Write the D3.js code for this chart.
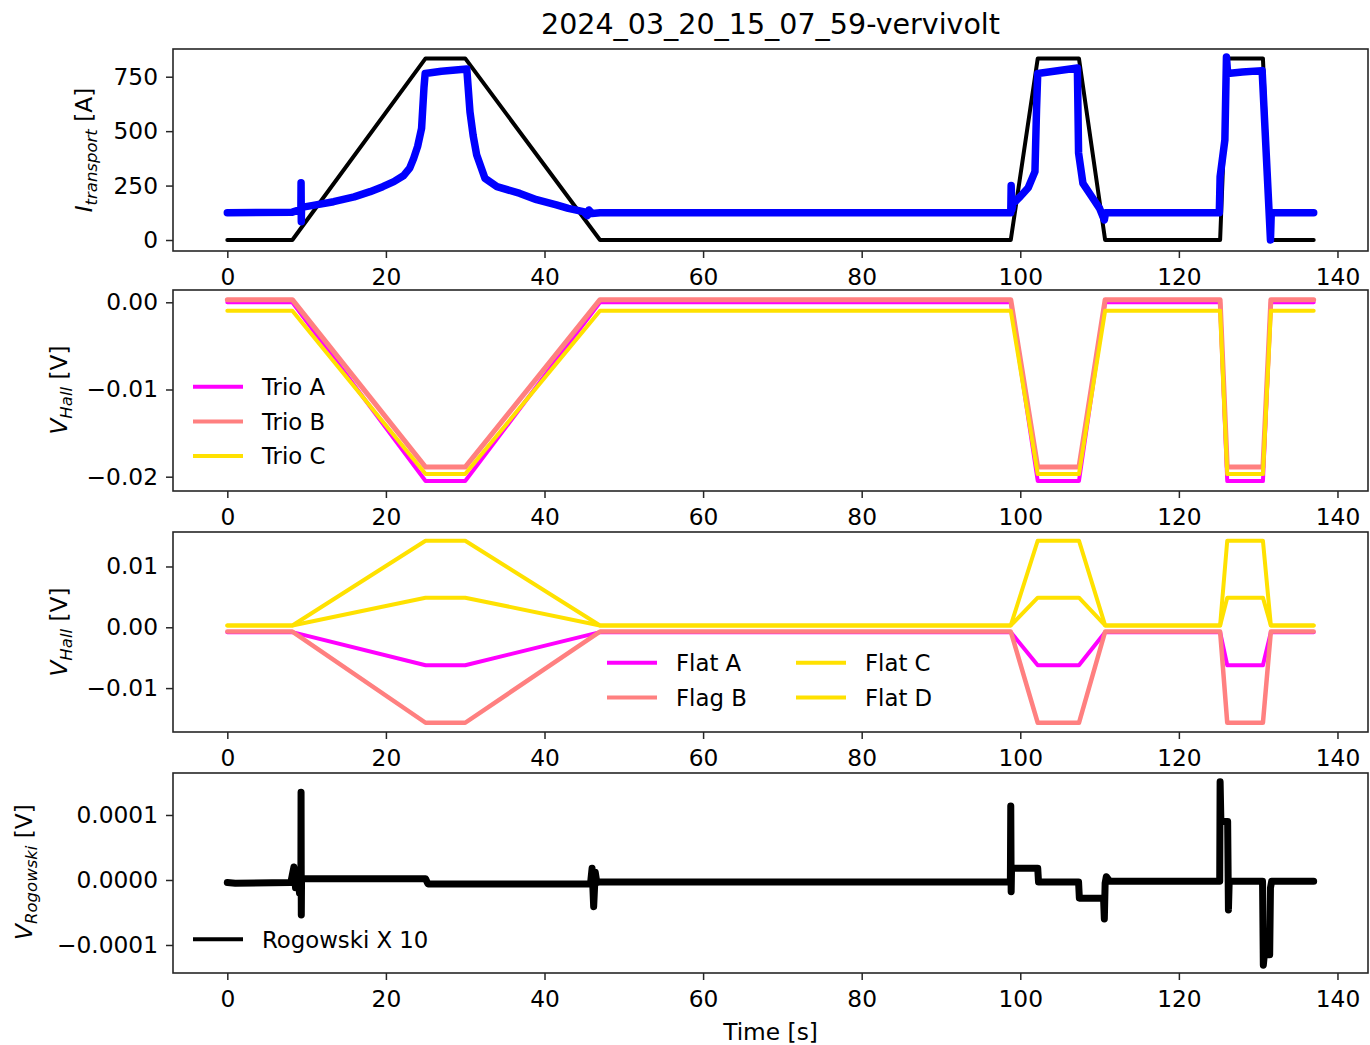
<!DOCTYPE html>
<html>
<head>
<meta charset="utf-8">
<script src="https://cdn.jsdelivr.net/npm/d3@7"></script>
<style>
  body { margin: 0; background: #fff; }
  text { font-family: "DejaVu Sans", sans-serif; fill: #000; }
  .axis path, .axis line { stroke: #262626; stroke-width: 1.5; }
  .axis text { font-size: 23.3px; }
</style>
</head>
<body>
<script>

// setpoint breakpoints (time, s) shared by setpoint and hall sensors
var tSet = [0, 8.2, 25, 30, 47, 98.8, 102.2, 107.4, 110.7, 125.2, 126.1, 130.6, 131.6, 137];
var iSet = [0, 0, 834, 834, 0, 0, 834, 834, 0, 0, 834, 834, 0, 0];

// measured transport current
var tMeas = [0, 8.2, 9.2, 9.28, 9.3, 9.33, 9.36, 11, 13.4, 16, 18, 19.6, 21, 22.2, 23, 23.5, 24, 24.5, 24.8, 24.95, 27, 30.2,
  30.6, 31, 31.45, 32.5, 34, 36.9, 39, 41.5, 43, 44.9, 45.4, 45.6, 46, 47,
  98.8, 98.85, 98.95, 99.1, 100, 101, 101.85, 102.05, 102.2, 107.2, 107.35, 107.9, 109, 110, 110.6, 110.75,
  125.1, 125.2, 125.8, 126.0, 126.15, 128, 130.5, 131.55, 131.65, 137];
var iMeas = [125, 128, 140, 150, 263, 84, 150, 160, 176, 198, 222, 245, 268, 295, 330, 375, 430, 513, 700, 765, 775, 785,
  589, 480, 390, 283, 245, 214, 185, 161, 145, 130, 112, 138, 122, 125,
  125, 250, 140, 168, 200, 240, 314, 600, 765, 790, 400, 260, 200, 145, 92, 125,
  125, 291, 459, 841, 765, 772, 778, 0, 125, 125];

// hall sensor series (V)
var trioNames = ["Trio A", "Trio B", "Trio C"];
var trioA = [0, 0, -0.0205, -0.0205, 0, 0, -0.0205, -0.0205, 0, 0, -0.0205, -0.0205, 0, 0];
var trioB = [0.0003, 0.0003, -0.0189, -0.0189, 0.0003, 0.0003, -0.0189, -0.0189, 0.0003, 0.0003, -0.0189, -0.0189, 0.0003, 0.0003];
var trioC = [-0.00096, -0.00096, -0.0197, -0.0197, -0.00096, -0.00096, -0.0197, -0.0197, -0.00096, -0.00096, -0.0197, -0.0197, -0.00096, -0.00096];

var flatNames = ["Flat A", "Flag B", "Flat C", "Flat D"];
var flatA = [-0.0008, -0.0008, -0.00625, -0.00625, -0.0008, -0.0008, -0.00625, -0.00625, -0.0008, -0.0008, -0.00625, -0.00625, -0.0008, -0.0008];
var flagB = [-0.0007, -0.0007, -0.0157, -0.0157, -0.0007, -0.0007, -0.0157, -0.0157, -0.0007, -0.0007, -0.0157, -0.0157, -0.0007, -0.0007];
var flatC = [0.0003, 0.0003, 0.01424, 0.01424, 0.0003, 0.0003, 0.01424, 0.01424, 0.0003, 0.0003, 0.01424, 0.01424, 0.0003, 0.0003];
var flatD = [0.0003, 0.0003, 0.00487, 0.00487, 0.0003, 0.0003, 0.00487, 0.00487, 0.0003, 0.0003, 0.00487, 0.00487, 0.0003, 0.0003];

// rogowski coil (x10)
var tRog = [0, 1, 8, 8.4, 8.6, 8.9, 9.1, 9.28, 9.3, 9.33, 9.36, 9.6, 25, 25.3, 45.8, 46.0, 46.2, 46.4, 46.6, 47, 98.75,
  98.8, 98.85, 98.9, 99.0, 102.2, 102.3, 107.35, 107.45, 110.5, 110.6, 110.7, 110.85, 111.3, 125.15,
  125.2, 125.3, 125.4, 126.15, 126.25, 126.35, 126.45, 130.55, 130.65, 130.8, 131.0, 131.45, 131.55, 131.7, 137];
var vRog = [-0.000004, -0.000005, -0.000004, 0.00002, -0.000012, 0.000015, -0.00002, 0.000005, 0.000135, -0.000054, 0.000002, 0.000002, 0.000002, -0.000006, -0.000006, 0.000018, -0.000041, 0.000012, -0.000004, -0.000003, -0.000003,
  0.000114, -0.000018, 0.00002, 0.000018, 0.000018, -0.000003, -0.000003, -0.000028, -0.000028, -0.00006, -0.000005, 0.000005, -0.000002, -0.000002,
  0.000151, 0.00009, 0.00009, 0.00009, -0.000046, 0.0000, -0.000002, -0.000002, -0.000131, -0.000112, -0.000115, -0.000115, -0.000012, -0.000002, -0.000002];

var xTicks = [0, 20, 40, 60, 80, 100, 120, 140];

var width = 1370, height = 1045,
    left = 173, right = 1368;

var panels = [
  {top: 49, bottom: 251, domain: [-50.5, 877.3], ticks: [0, 250, 500, 750], fmt: d3.format("d")},
  {top: 290, bottom: 491, domain: [-0.02164, 0.00141], ticks: [-0.02, -0.01, 0], fmt: d3.format(".2f")},
  {top: 532, bottom: 732, domain: [-0.01722, 0.01567], ticks: [-0.01, 0, 0.01], fmt: d3.format(".2f")},
  {top: 773, bottom: 973, domain: [-0.0001431, 0.0001646], ticks: [-0.0001, 0, 0.0001], fmt: d3.format(".4f")}
];

var colMagenta = "#ff00ff", colSalmon = "#ff8080", colYellow = "#ffe100";

var svg = d3.select("body").append("svg")
    .attr("width", width)
    .attr("height", height);

var x = d3.scaleLinear().domain([-6.85, 143.85]).range([left, right]);

var line = d3.line()
    .x(function(d) { return x(d[0]); })
    .y(function(d) { return d[1]; });

function zip(ts, vs, y) {
  return ts.map(function(t, i) { return [t, y(vs[i])]; });
}

panels.forEach(function(p, k) {
  p.y = d3.scaleLinear().domain(p.domain).range([p.bottom, p.top]);

  svg.append("defs").append("clipPath")
      .attr("id", "clip" + k)
    .append("rect")
      .attr("x", left).attr("y", p.top)
      .attr("width", right - left).attr("height", p.bottom - p.top);

  p.g = svg.append("g").attr("clip-path", "url(#clip" + k + ")");

  // x axis
  svg.append("g")
      .attr("class", "axis")
      .attr("transform", "translate(0," + p.bottom + ")")
      .call(d3.axisBottom(x).tickValues(xTicks).tickSize(7).tickPadding(10).tickFormat(d3.format("d")))
      .call(function(g) { g.select(".domain").remove(); });

  // y axis
  svg.append("g")
      .attr("class", "axis")
      .attr("transform", "translate(" + left + ",0)")
      .call(d3.axisLeft(p.y).tickValues(p.ticks).tickSize(7).tickPadding(8).tickFormat(p.fmt))
      .call(function(g) { g.select(".domain").remove(); });
});

function draw(k, ts, vs, color, w) {
  var p = panels[k];
  p.g.append("path")
      .datum(zip(ts, vs, p.y))
      .attr("fill", "none")
      .attr("stroke", color)
      .attr("stroke-width", w)
      .attr("stroke-linejoin", "round")
      .attr("stroke-linecap", "round")
      .attr("d", line);
}

// panel 1: transport current
draw(0, tSet, iSet, "#000", 4);
draw(0, tMeas, iMeas, "#0000ff", 7.5);

// panel 2: trio hall sensors
draw(1, tSet, trioA, colMagenta, 4);
draw(1, tSet, trioB, colSalmon, 5);
draw(1, tSet, trioC, colYellow, 4);

// panel 3: flat hall sensors
draw(2, tSet, flatA, colMagenta, 4);
draw(2, tSet, flagB, colSalmon, 4.5);
draw(2, tSet, flatC, colYellow, 4);
draw(2, tSet, flatD, colYellow, 4);

// panel 4: rogowski
draw(3, tRog, vRog, "#000", 7);

// frames on top
panels.forEach(function(p) {
  svg.append("rect")
      .attr("x", left).attr("y", p.top)
      .attr("width", right - left).attr("height", p.bottom - p.top)
      .attr("fill", "none")
      .attr("stroke", "#262626")
      .attr("stroke-width", 1.6);
});

// legends
function legend(items, x0, y0, colGap, rows) {
  items.forEach(function(it, i) {
    var c = Math.floor(i / rows), r = i % rows;
    var lx = x0 + c * colGap, ly = y0 + r * 34.7;
    svg.append("line")
        .attr("x1", lx).attr("x2", lx + 50)
        .attr("y1", ly).attr("y2", ly)
        .attr("stroke", it.color).attr("stroke-width", 4);
    svg.append("text")
        .attr("x", lx + 69).attr("y", ly)
        .attr("dy", "0.36em")
        .style("font-size", "22.8px")
        .text(it.name);
  });
}

var trioColors = [colMagenta, colSalmon, colYellow];
legend(trioNames.map(function(n, i) { return {name: n, color: trioColors[i]}; }), 193, 386.7, 0, 3);

var flatColors = [colMagenta, colSalmon, colYellow, colYellow];
legend(flatNames.map(function(n, i) { return {name: n, color: flatColors[i]}; }), 607, 662.7, 189, 2);

legend([{name: "Rogowski X 10", color: "#000"}], 193, 939.3, 0, 1);

// y labels
function ylabel(cx, cy, main, sub, unit) {
  var t = svg.append("text")
      .attr("transform", "translate(" + cx + "," + cy + ") rotate(-90)")
      .attr("text-anchor", "middle")
      .attr("dy", "0.36em")
      .style("font-size", "23.3px");
  t.append("tspan").style("font-style", "italic").text(main);
  t.append("tspan").style("font-style", "italic").style("font-size", "16.5px").attr("dy", 5).text(sub);
  t.append("tspan").attr("dy", -5).text(" " + unit);
}

ylabel(84, 150, "I", "transport", "[A]");
ylabel(59, 390, "V", "Hall", "[V]");
ylabel(59, 632, "V", "Hall", "[V]");
ylabel(24, 872, "V", "Rogowski", "[V]");

// title and x label
svg.append("text")
    .attr("x", (left + right) / 2).attr("y", 34)
    .attr("text-anchor", "middle")
    .style("font-size", "28.5px")
    .text("2024_03_20_15_07_59-vervivolt");

svg.append("text")
    .attr("x", (left + right) / 2).attr("y", 1040)
    .attr("text-anchor", "middle")
    .style("font-size", "23.3px")
    .text("Time [s]");

</script>
</body>
</html>
